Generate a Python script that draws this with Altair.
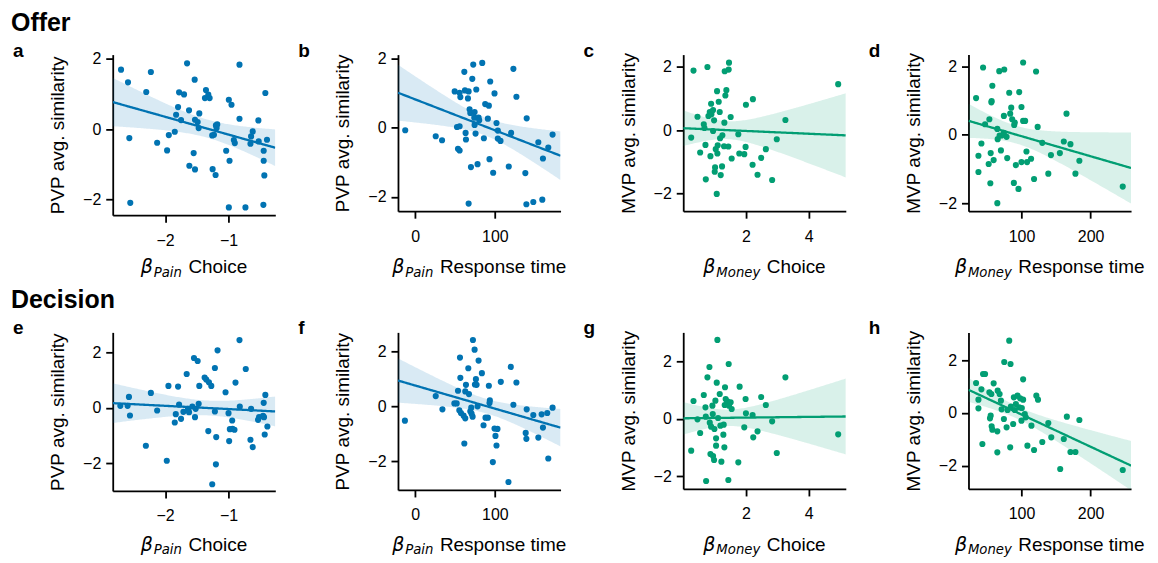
import altair as alt
import numpy as np
import pandas as pd

BLUE = "#0173B2"
GREEN = "#029E73"

SECTIONS = ["Offer", "Decision"]
LETTERS = ["a", "b", "c", "d", "e", "f", "g", "h"]
Y_LABELS = ["PVP avg. similarity", "PVP avg. similarity", "MVP avg. similarity", "MVP avg. similarity"] * 2
X_SUBS = ["Pain", "Pain", "Money", "Money"] * 2
X_WORDS = ["Choice", "Response time", "Choice", "Response time"] * 2
X_TICKS = [[-2, -1], [0, 100], [2, 4], [100, 200]] * 2
Y_TICKS = [-2, 0, 2]

# ---- panel a: Offer, beta_Pain choice vs PVP similarity
A_X = [-2.696, -2.586, -2.565, -2.55, -2.225, -2.298, -2.126, -1.969, -1.942, -1.848,
       -1.827, -1.796, -1.78, -1.749, -1.702, -1.654, -1.623, -1.618, -1.55, -1.534,
       -1.529, -1.529, -1.487, -1.471, -1.461, -1.372, -1.356, -1.319, -1.298, -1.257,
       -1.251, -1.23, -1.204, -1.199, -1.188, -1.178, -1.037, -0.995, -0.995, -0.984,
       -0.953, -0.916, -0.901, -0.827, -0.827, -0.733, -0.654, -0.644, -0.618, -0.529,
       -0.524, -0.45, -0.445, -0.445, -0.435, -0.419, -0.393]
A_Y = [1.683, 1.324, -0.255, -2.09, 1.617, 1.05, -0.388, -0.605, -0.17, -0.076,
       0.407, 0.624, 1.04, 0.255, 0.983, 1.863, 0.53, -1.04, -0.681, 1.4,
       -1.144, 0.265, 0.2, 0.028, 0.444, 0.879, 1.106, 0.974, 0.879, -0.18,
       -1.135, -0.161, -1.3, 0.104, 0.028, 0.132, -0.615, -2.22, 0.832, -0.898,
       0.69, -0.312, -0.397, 1.825, 0.293, -2.22, -0.416, -0.208, -0.066, 0.246,
       -0.35, -2.147, -0.615, -0.898, -1.314, 1.021, -0.303]

# ---- panel b: Offer, beta_Pain response time vs PVP similarity
B_X = [-12.5, 25.8, 33.75, 49.6, 52.5, 53.75, 55.8, 55.8, 56.7, 55.8,
       61.7, 62.5, 63.3, 63.75, 66.25, 67.1, 67.1, 68.3, 69.2, 70.0,
       71.7, 72.9, 74.2, 74.6, 74.6, 75.8, 76.7, 78.3, 79.6, 80.4,
       84.2, 86.25, 87.9, 91.25, 92.5, 93.3, 94.2, 97.9, 99.6, 102.1,
       103.75, 103.75, 107.1, 117.5, 120.4, 123.3, 127.1, 138.3, 140.0, 139.6,
       148.3, 154.6, 159.6, 160.4, 167.1, 172.5]
B_Y = [-0.077, -0.249, -0.364, 1.043, 0.019, -0.612, -0.66, 0.038, 0.88, 1.005,
       1.608, 1.072, -0.153, -0.344, 0.842, 1.043, -2.19, 0.526, 0.421, -1.139,
       1.407, 1.818, 0.287, 0.45, 0.077, -0.172, 1.1, -1.053, 0.287, 0.211,
       1.866, -0.306, 0.679, 0.258, 0.632, -0.909, 1.33, -1.301, 0.986, 0.134,
       -0.086, -0.316, -0.383, -1.12, -0.153, 1.694, 0.89, -1.311, 0.268, -2.21,
       -2.144, -0.421, -2.077, -0.89, -0.574, -0.201]

# ---- panel c: Offer, beta_Money choice vs MVP similarity
C_X = [0.328, 0.254, 0.455, 0.54, 0.656, 0.709, 0.72, 0.772, 0.677, 0.804,
       0.847, 0.868, 0.889, 0.9, 0.952, 0.952, 0.984, 1.005, 1.016, 1.037,
       1.069, 1.079, 1.09, 1.1, 1.132, 1.164, 1.175, 1.196, 1.238, 1.249,
       1.302, 1.312, 1.323, 1.344, 1.376, 1.439, 1.45, 1.46, 1.513, 1.545,
       1.757, 1.788, 1.947, 1.989, 2.0, 2.222, 2.212, 2.37, 2.487, 2.635,
       2.836, 2.984, 3.259, 4.942]
C_Y = [1.885, -0.23, 0.429, -0.70, 0.188, -0.461, -1.55, 2.0, 0.073, 0.45,
       0.576, -0.817, 0.838, 0.503, 0.639, -0.021, 0.314, -1.309, -1.173, -0.597,
       -2.01, 1.236, -0.733, -0.471, 0.9, 0.576, -0.251, -1.414, -1.141, -0.157,
       -0.503, 0.241, 1.864, 1.1, 1.267, -0.513, 1.916, 2.136, 0.419, -0.89,
       -0.126, -0.733, -0.754, -0.524, 0.806, 0.984, -1.089, -1.403, -0.869, -0.597,
       -1.571, -0.283, 0.325, 1.456]

# ---- panel d: Offer, beta_Money response time vs MVP similarity
D_X = [34.4, 37.8, 37.8, 42.1, 44.5, 47.4, 53.6, 55.0, 55.5, 52.6,
       56.5, 57.9, 59.8, 56.9, 65.1, 65.6, 68.4, 65.1, 67.9, 70.3,
       71.3, 74.6, 75.1, 74.6, 78.5, 79.4, 82.3, 83.7, 85.2, 86.6,
       89.5, 89.0, 90.4, 91.9, 95.7, 96.7, 100.0, 100.0, 102.4, 102.4,
       105.3, 107.2, 108.1, 113.9, 118.2, 121.1, 123.4, 130.1, 138.8, 142.6,
       155.5, 161.2, 165.1, 170.8, 178.0, 183.7, 246.4]
D_Y = [1.08, -0.613, -1.09, -0.253, 1.976, 0.311, 0.457, -1.42, -0.535, -0.856,
       0.954, 1.44, -0.74, 0.99, 0.175, -0.127, -0.019, -2.005, 1.869, -0.457,
       -0.019, 0.555, 1.917, 0.058, -0.058, -0.681, 1.236, 0.623, 0.798, 0.457,
       0.292, -1.411, 0.36, -0.886, -1.586, 1.255, 0.818, -0.798, 2.122, 0.409,
       0.409, -0.487, -0.798, -0.7, -1.294, 1.859, 0.234, -0.234, -1.139, -0.594,
       -0.535, -0.195, 0.623, -0.273, -1.139, -0.759, -1.518]

# ---- panel e: Decision, beta_Pain choice vs PVP similarity
E_X = [-2.707, -2.592, -2.571, -2.555, -2.304, -2.225, -2.126, -1.974, -1.948, -1.848,
       -1.832, -1.796, -1.78, -1.749, -1.712, -1.66, -1.639, -1.623, -1.571, -1.545,
       -1.529, -1.518, -1.487, -1.471, -1.461, -1.377, -1.351, -1.319, -1.309, -1.272,
       -1.257, -1.215, -1.215, -1.199, -1.194, -1.173, -1.047, -1.0, -0.99, -0.979,
       -0.942, -0.937, -0.906, -0.89, -0.827, -0.822, -0.728, -0.644, -0.654, -0.618,
       -0.534, -0.518, -0.455, -0.445, -0.429, -0.419, -0.387, -0.44]
E_Y = [0.072, 0.072, 0.395, -0.275, -1.365, 0.539, -0.096, -1.904, 0.79, -0.527,
       -0.228, 0.766, 0.12, -0.395, -0.144, 1.222, -0.036, -0.156, 0.048, 1.796,
       -0.335, -0.036, 1.689, 0.144, 0.79, 1.09, 1.018, -0.838, 0.922, 0.79,
       -2.754, 1.437, -0.132, -2.036, -1.054, 2.072, 0.563, -0.192, -1.198, -0.766,
       -0.455, -0.754, -0.79, 0.91, 2.443, 0.048, 1.401, -0.036, -1.15, -1.413,
       -0.431, -0.335, -0.287, 0.18, -0.958, 0.467, -0.671, -0.335]

# ---- panel f: Decision, beta_Pain response time vs PVP similarity
F_X = [-12.9, 25.8, 34.2, 49.2, 52.1, 53.75, 55.4, 56.25, 56.7, 57.5,
       60.8, 61.7, 62.9, 62.9, 63.75, 66.7, 67.5, 69.2, 70.4, 70.8,
       72.1, 72.5, 74.6, 75.0, 76.25, 77.1, 78.3, 79.6, 83.75, 85.8,
       88.3, 91.25, 92.5, 93.75, 93.3, 97.5, 99.6, 100.8, 102.1, 103.3,
       107.5, 117.1, 120.0, 123.3, 127.1, 138.75, 139.6, 140.0, 148.3, 154.6,
       158.75, 160.4, 165.8, 167.1, 172.5]
F_Y = [-0.518, 0.373, -0.108, 0.108, 0.108, 0.566, -0.145, 1.771, 1.036, -0.241,
       -0.337, -1.349, -0.434, 0.542, 0.783, 1.386, 0.446, -0.181, -0.048, -0.265,
       -0.373, 2.41, 2.06, 0.795, 0.988, 0.783, 0.0, 1.663, 1.205, -0.687,
       -0.41, -0.41, 0.747, 0.217, 0.12, -2.024, -0.807, -1.072, -1.422, -0.819,
       0.892, -2.747, 1.434, 0.06, 0.867, -0.964, -1.18, -0.108, -0.313, -1.133,
       -0.289, -0.771, -0.241, -1.892, -0.048]

# ---- panel g: Decision, beta_Money choice vs MVP similarity
G_X = [0.328, 0.254, 0.455, 0.54, 0.656, 0.709, 0.73, 0.772, 0.72, 0.836,
       0.847, 0.868, 0.889, 0.931, 0.942, 0.952, 0.984, 0.995, 1.026, 1.048,
       1.048, 1.069, 1.09, 1.111, 1.164, 1.185, 1.217, 1.28, 1.291, 1.312,
       1.333, 1.323, 1.354, 1.407, 1.439, 1.45, 1.46, 1.513, 1.545, 1.757,
       1.799, 1.947, 1.989, 2.0, 2.212, 2.233, 2.37, 2.487, 2.635, 2.836,
       2.984, 3.259, 4.942]
G_Y = [0.628, -1.105, -0.012, -0.488, 0.837, 0.407, -2.163, 1.453, 0.081, 1.814,
       -0.128, -1.221, -0.267, 0.465, 0.174, -1.291, -1.43, -0.349, 0.64, -0.674,
       -0.93, 1.267, 2.756, 0.035, 0.872, -0.233, -1.488, -0.547, -0.198, -0.988,
       1.105, 0.488, 0.698, 0.616, -2.128, 1.919, 0.465, 0.581, 0.349, -1.512,
       1.128, -0.291, 0.698, 0.198, 0.14, -0.64, -0.43, 0.767, 0.488, -0.081,
       -1.186, 1.453, -0.535]

# ---- panel h: Decision, beta_Money response time vs MVP similarity
H_X = [34.4, 37.8, 37.8, 42.1, 43.5, 44.5, 47.4, 53.6, 55.5, 54.5,
       56.5, 56.9, 57.9, 59.8, 65.1, 65.1, 65.6, 68.4, 70.3, 71.3,
       75.1, 74.6, 78.5, 79.9, 82.3, 83.7, 84.2, 84.7, 88.0, 89.0,
       90.4, 91.9, 94.3, 96.7, 98.1, 100.0, 100.5, 102.4, 102.4, 104.8,
       106.2, 108.6, 114.4, 118.2, 121.5, 123.9, 130.1, 138.8, 143.1, 156.0,
       161.2, 165.6, 170.8, 178.0, 183.7, 246.4]
H_Y = [1.132, 0.503, 0.176, 0.893, -1.17, 1.472, 1.472, 0.78, -0.101, -0.201,
       0.717, -0.503, -0.629, 1.12, -1.484, -0.692, 0.843, 0.717, 0.465, 0.138,
       1.925, -0.226, -0.541, 0.113, 2.73, -1.296, 1.849, 0.239, -0.415, 0.591,
       0.113, 0.34, 0.654, 0.214, 0.553, -0.289, 0.189, 1.27, 0.503, -0.038,
       -0.164, -1.233, -0.478, -1.396, 0.654, 0.503, -1.094, -0.377, -0.918, -2.113,
       -0.981, -0.138, -1.472, -1.472, -0.264, -2.151]

XS = [A_X, B_X, C_X, D_X, E_X, F_X, G_X, H_X]
YS = [A_Y, B_Y, C_Y, D_Y, E_Y, F_Y, G_Y, H_Y]
COLORS = [BLUE, BLUE, GREEN, GREEN] * 2

# axis ranges (scale settings)
X_DOMAINS = [[-2.827, -0.262], [-21.6, 182.5], [0.0, 5.185], [23.4, 258.4]] * 2
Y_DOMAINS = [[-2.44, 2.11], [-2.41, 2.105], [-2.555, 2.39], [-2.24, 2.355],
             [-2.994, 2.72], [-3.036, 2.687], [-2.44, 3.02], [-2.868, 3.044]]

W = 163
HEIGHTS = [161, 157, 157, 157, 159, 158, 157, 157]

FONT = "Liberation Sans"
MATH = "DejaVu Sans"
SUB_W = {"Pain": 28.3, "Money": 44.0}
WORD_W = {"Choice": 59.1, "Response time": 126.7}
BETA_W = 13.0
GAP = 6.5


def fit_band(xs, ys, dom):
    x = np.asarray(xs, float)
    y = np.asarray(ys, float)
    n = len(x)
    b1, b0 = np.polyfit(x, y, 1)
    grid = np.linspace(dom[0], dom[1], 120)
    yhat = b0 + b1 * grid
    resid = y - (b0 + b1 * x)
    s = np.sqrt(np.sum(resid ** 2) / (n - 2))
    se = s * np.sqrt(1.0 / n + (grid - x.mean()) ** 2 / np.sum((x - x.mean()) ** 2))
    t = 2.006
    return pd.DataFrame({"x": grid, "fit": yhat, "lo": yhat - t * se, "hi": yhat + t * se})


def label(text, px, py, size, weight="normal", style="normal", font=FONT, align="left"):
    return alt.Chart(pd.DataFrame({"t": [text]})).mark_text(
        align=align, baseline="alphabetic", fontSize=size, fontWeight=weight,
        fontStyle=style, font=font, color="black"
    ).encode(text="t:N", x=alt.value(px), y=alt.value(py))


def panel(i):
    c = COLORS[i]
    pts = pd.DataFrame({"x": XS[i], "y": YS[i]})
    band_df = fit_band(XS[i], YS[i], X_DOMAINS[i])
    xsc = alt.Scale(domain=X_DOMAINS[i], nice=False, zero=False)
    ysc = alt.Scale(domain=Y_DOMAINS[i], nice=False, zero=False)
    xax = alt.Axis(values=X_TICKS[i], title=None)
    yax = alt.Axis(values=Y_TICKS, title=Y_LABELS[i])

    band = alt.Chart(band_df).mark_area(color=c, opacity=0.15, clip=True).encode(
        x=alt.X("x:Q", scale=xsc, axis=xax),
        y=alt.Y("lo:Q", scale=ysc, axis=yax),
        y2="hi:Q",
    )
    dots = alt.Chart(pts).mark_circle(color=c, size=38, opacity=1).encode(
        x=alt.X("x:Q", scale=xsc, axis=xax),
        y=alt.Y("y:Q", scale=ysc, axis=yax),
    )
    line = alt.Chart(band_df).mark_line(color=c, strokeWidth=2.3, clip=True).encode(
        x=alt.X("x:Q", scale=xsc, axis=xax),
        y=alt.Y("fit:Q", scale=ysc, axis=yax),
    )

    sub, word = X_SUBS[i], X_WORDS[i]
    total = BETA_W + SUB_W[sub] + GAP + WORD_W[word]
    s0 = W / 2 - total / 2
    ty = 219
    layers = [
        band, dots, line,
        label("β", s0, ty, 19, style="italic", font=MATH),
        label(sub, s0 + BETA_W, ty + 3.5, 13.3, style="italic", font=MATH),
        label(word, s0 + BETA_W + SUB_W[sub] + GAP, ty, 19),
        label(LETTERS[i], -100, 2, 19, weight="bold"),
    ]
    if i % 4 == 0:
        layers.append(label(SECTIONS[i // 4], -102, -24, 25, weight="bold"))
    return alt.layer(*layers).properties(width=W, height=HEIGHTS[i])


chart = alt.concat(
    *[panel(i) for i in range(8)], columns=4,
    spacing=alt.RowColnumber(row=117.5, column=123), bounds="flush"
).properties(
    padding={"left": 3, "top": 2, "right": 5, "bottom": 5}
).configure_view(stroke=None).configure_axis(
    domainColor="black", domainWidth=1.8, tickColor="black", tickWidth=1.8, tickSize=7,
    labelFontSize=16, labelColor="black", labelFont=FONT, titleFont=FONT,
    titleFontSize=19, titleFontWeight="normal", titleColor="black", grid=False,
    labelFlush=False,
).configure_axisX(labelPadding=10).configure_axisY(labelPadding=5, titlePadding=15)

chart.save("out.html", embed_options={"renderer": "svg", "actions": False})
